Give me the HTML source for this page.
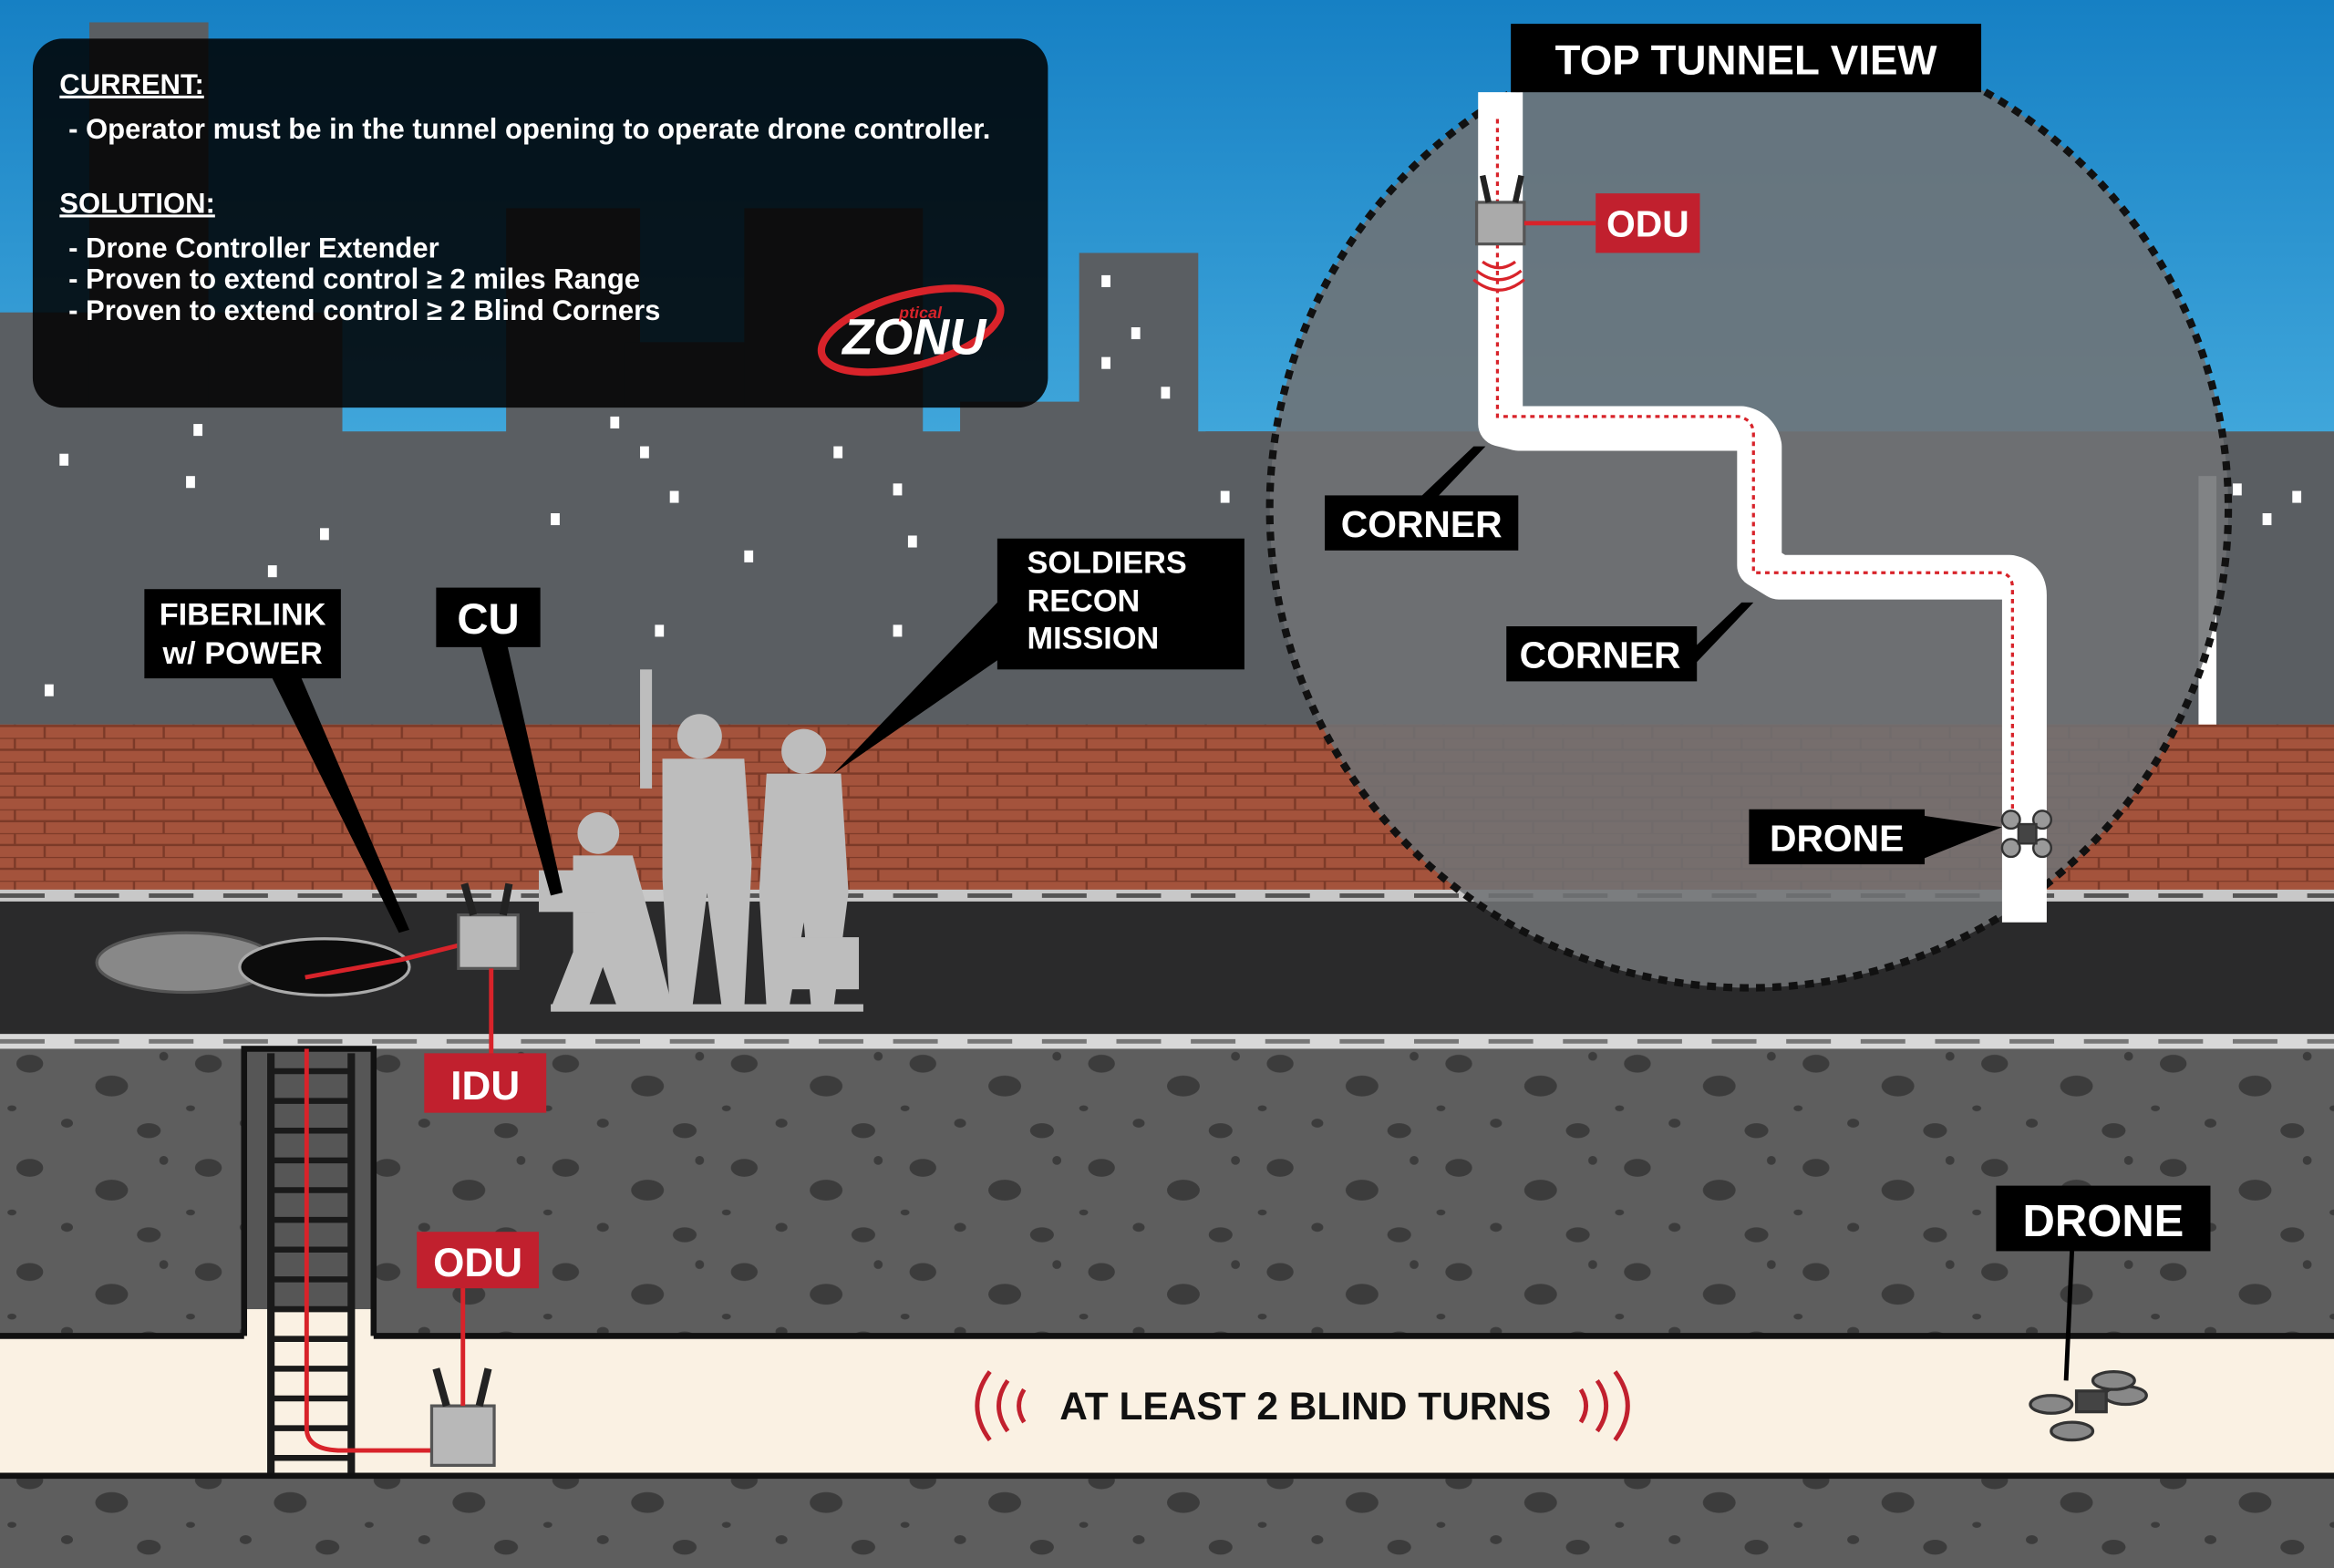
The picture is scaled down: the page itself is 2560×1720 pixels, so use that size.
<!DOCTYPE html>
<html><head><meta charset="utf-8"><style>
html,body{margin:0;padding:0;width:2560px;height:1720px;overflow:hidden;background:#5a5d60}
svg{display:block}
text{font-family:"Liberation Sans",Arial,sans-serif}
</style></head><body>
<svg width="2560" height="1720" viewBox="0 0 1568 1054" preserveAspectRatio="none" xmlns="http://www.w3.org/2000/svg">
<defs>
<linearGradient id="sky" x1="0" y1="0" x2="0" y2="1"><stop offset="0" stop-color="#1680c4"/><stop offset="1" stop-color="#5cc0ea"/></linearGradient>
<pattern id="brick" width="40" height="16" patternUnits="userSpaceOnUse">
<rect width="40" height="16" fill="#a4533c"/>
<path d="M0 0H40M0 8H40M10 0V8M30 8V16" stroke="#7c3a28" stroke-width="1.5"/>
</pattern>
<pattern id="rocks" width="120" height="70" patternUnits="userSpaceOnUse">
<rect width="120" height="70" fill="#5e5e5e"/>
<ellipse cx="20" cy="15" rx="9" ry="6" fill="#3c3c3c"/><ellipse cx="75" cy="30" rx="11" ry="7" fill="#3c3c3c"/>
<ellipse cx="45" cy="55" rx="4" ry="3" fill="#3c3c3c"/><ellipse cx="100" cy="60" rx="8" ry="5" fill="#3c3c3c"/>
<ellipse cx="110" cy="10" rx="3" ry="3" fill="#3c3c3c"/><ellipse cx="8" cy="45" rx="3" ry="2" fill="#3c3c3c"/>
</pattern>
</defs>
<rect width="1568" height="490" fill="url(#sky)"/>
<g fill="#5a5e62">
<rect x="0" y="210" width="230" height="280"/><rect x="60" y="15" width="80" height="300"/>
<rect x="230" y="290" width="1338" height="200"/><rect x="340" y="140" width="90" height="350"/>
<rect x="420" y="230" width="170" height="260"/><rect x="500" y="140" width="120" height="350"/>
<rect x="645" y="270" width="90" height="220"/><rect x="725" y="170" width="80" height="320"/>
<rect x="810" y="290" width="50" height="200"/><rect x="1490" y="320" width="78" height="170"/>
</g>
<g fill="#fff">
<rect x="40" y="305" width="6" height="8"/><rect x="130" y="285" width="6" height="8"/><rect x="125" y="320" width="6" height="8"/>
<rect x="180" y="380" width="6" height="8"/><rect x="215" y="355" width="6" height="8"/><rect x="30" y="460" width="6" height="8"/>
<rect x="410" y="280" width="6" height="8"/><rect x="430" y="300" width="6" height="8"/><rect x="450" y="330" width="6" height="8"/>
<rect x="500" y="370" width="6" height="8"/><rect x="560" y="300" width="6" height="8"/><rect x="600" y="325" width="6" height="8"/>
<rect x="610" y="360" width="6" height="8"/><rect x="740" y="185" width="6" height="8"/><rect x="760" y="220" width="6" height="8"/>
<rect x="780" y="260" width="6" height="8"/><rect x="740" y="240" width="6" height="8"/><rect x="820" y="330" width="6" height="8"/>
<rect x="370" y="345" width="6" height="8"/><rect x="440" y="420" width="6" height="8"/><rect x="600" y="420" width="6" height="8"/>
<rect x="1500" y="325" width="6" height="8"/><rect x="1520" y="345" width="6" height="8"/><rect x="1540" y="330" width="6" height="8"/>
<rect x="1477" y="320" width="12" height="170"/>
</g>
<rect x="0" y="487" width="1568" height="112" fill="url(#brick)"/>
<rect x="0" y="598" width="1568" height="8" fill="#c8c8c8"/>
<path d="M0 602H1568" stroke="#555" stroke-width="3" stroke-dasharray="30 20"/>
<rect x="0" y="606" width="1568" height="90" fill="#2a2a2b"/>
<rect x="0" y="695" width="1568" height="10" fill="#d8d8d8"/>
<path d="M0 700H1568" stroke="#777" stroke-width="3" stroke-dasharray="30 20"/>
<rect x="0" y="705" width="1568" height="349" fill="url(#rocks)"/>
<rect x="164" y="705" width="87" height="200" fill="#565656" stroke="#111" stroke-width="4"/>
<rect x="0" y="898" width="1568" height="94" fill="#faf1e3"/>
<path d="M0 898H164M251 898H1568M0 992H1568" stroke="#111" stroke-width="4"/>
<rect x="166" y="880" width="83" height="30" fill="#faf1e3"/>
<g stroke="#1a1a1a" stroke-width="5">
<path d="M182 708V990M236 708V990"/>
<path d="M182 720H236M182 740H236M182 760H236M182 780H236M182 800H236M182 820H236M182 840H236M182 860H236M182 880H236M182 900H236M182 920H236M182 940H236M182 960H236M182 980H236" stroke-width="4"/>
</g>
<path d="M206 705V960Q206 975 230 975H295" stroke="#d8232a" stroke-width="3" fill="none"/>
<rect x="290" y="945" width="42" height="40" fill="#b8b8b8" stroke="#555" stroke-width="2"/>
<path d="M300 945L293 920M322 945L328 920" stroke="#222" stroke-width="5"/>
<path d="M311 945V860" stroke="#d8232a" stroke-width="3"/>
<rect x="280" y="828" width="82" height="38" fill="#c1202e"/>
<text x="321" y="858" text-anchor="middle" font-size="27" font-weight="bold" fill="#fff">ODU</text>
<ellipse cx="125" cy="647" rx="60" ry="20" fill="#888" stroke="#555" stroke-width="2"/>
<ellipse cx="218" cy="650" rx="57" ry="19" fill="#0c0c0c" stroke="#aaa" stroke-width="2"/>
<path d="M205 657L270 645L310 635" stroke="#d8232a" stroke-width="3" fill="none"/>
<rect x="308" y="615" width="40" height="36" fill="#b8b8b8" stroke="#555" stroke-width="2"/>
<path d="M318 615L312 594M338 615L342 594" stroke="#222" stroke-width="5"/>
<path d="M330 651V712" stroke="#d8232a" stroke-width="3"/>
<rect x="285" y="708" width="82" height="40" fill="#c1202e"/>
<text x="326" y="739" text-anchor="middle" font-size="27" font-weight="bold" fill="#fff">IDU</text>
<g fill="#bdbdbd">
<circle cx="402" cy="560" r="14"/><path d="M385 575H425L440 630L452 678H415L405 650L395 678H370L385 640Z"/>
<rect x="362" y="585" width="38" height="28"/>
<circle cx="470" cy="495" r="15"/><path d="M445 510H500L505 580L500 678H485L475 600L465 678H450L445 590Z"/>
<rect x="430" y="450" width="8" height="80"/>
<circle cx="540" cy="505" r="15"/><path d="M515 520H565L570 600L560 678H545L540 620L530 678H515L510 600Z"/>
<rect x="532" y="630" width="45" height="35"/>
<rect x="370" y="675" width="210" height="5"/>
</g>
<g fill="#000">
<polygon points="180,450 200,450 275,625 268,627"/>
<polygon points="322,430 340,430 378,600 370,602"/>
<polygon points="670,405 690,430 560,520"/>
</g>
<rect x="97" y="396" width="132" height="60" fill="#000"/>
<text x="163" y="420" text-anchor="middle" font-size="21" font-weight="bold" fill="#fff">FIBERLINK</text>
<text x="163" y="446" text-anchor="middle" font-size="21" font-weight="bold" fill="#fff">w/ POWER</text>
<rect x="293" y="395" width="70" height="40" fill="#000"/>
<text x="328" y="426" text-anchor="middle" font-size="29" font-weight="bold" fill="#fff">CU</text>
<rect x="670" y="362" width="166" height="88" fill="#000"/>
<text x="690" y="385" font-size="21" font-weight="bold" fill="#fff">SOLDIERS</text>
<text x="690" y="411" font-size="21" font-weight="bold" fill="#fff">RECON</text>
<text x="690" y="436" font-size="21" font-weight="bold" fill="#fff">MISSION</text>
<text x="877" y="954" text-anchor="middle" font-size="26" font-weight="bold" fill="#111">AT LEAST 2 BLIND TURNS</text>
<g fill="none" stroke="#c1202e" stroke-width="3">
<path d="M665 922Q648 945 665 968M677 928Q665 945 677 962M688 934Q681 945 688 956"/>
<path d="M1085 922Q1102 945 1085 968M1073 928Q1085 945 1073 962M1062 934Q1069 945 1062 956"/>
</g>
<path d="M1392 840L1388 928" stroke="#000" stroke-width="3"/>
<rect x="1341" y="797" width="144" height="44" fill="#000"/>
<text x="1413" y="831" text-anchor="middle" font-size="30" font-weight="bold" fill="#fff">DRONE</text>
<g fill="#888" stroke="#333" stroke-width="2">
<ellipse cx="1378" cy="944" rx="14" ry="6"/><ellipse cx="1428" cy="938" rx="14" ry="6"/>
<ellipse cx="1392" cy="962" rx="14" ry="6"/><ellipse cx="1420" cy="928" rx="14" ry="6"/>
<rect x="1395" y="935" width="20" height="14" fill="#444"/>
</g>
<rect x="22" y="26" width="682" height="248" rx="20" fill="#000" opacity="0.86"/>
<g fill="#fff" font-size="19" font-weight="600">
<text x="40" y="63" font-weight="bold" text-decoration="underline">CURRENT:</text>
<text x="46" y="93">-  Operator must be in the tunnel opening to operate drone controller.</text>
<text x="40" y="143" font-weight="bold" text-decoration="underline">SOLUTION:</text>
<text x="46" y="173">-  Drone Controller Extender</text>
<text x="46" y="194">-  Proven to extend control ≥ 2 miles Range</text>
<text x="46" y="215">-  Proven to extend control ≥ 2 Blind Corners</text>
</g>
<ellipse cx="612" cy="222" rx="62" ry="24" fill="none" stroke="#d8232a" stroke-width="5" transform="rotate(-15 612 222)"/>
<text x="566" y="238" font-size="34" font-weight="bold" fill="#fff" font-style="italic">ZONU</text>
<text x="604" y="214" font-size="11" font-weight="bold" fill="#d8232a" font-style="italic">ptical</text>
<circle cx="1175" cy="342" r="322" fill="#707274" fill-opacity="0.88" stroke="#111" stroke-width="5" stroke-dasharray="6 5"/>
<path d="M1008 62V285L1020 288H1170Q1180 290 1182 300V380L1195 388H1350Q1360 390 1360 400V620" fill="none" stroke="#fff" stroke-width="30" stroke-linejoin="round"/>
<path d="M1006 80V280H1168Q1178 282 1178 292V385H1345Q1352 387 1352 395V550" fill="none" stroke="#d8232a" stroke-width="2" stroke-dasharray="3 3"/>
<rect x="992" y="136" width="32" height="28" fill="#aaa" stroke="#555" stroke-width="2"/>
<path d="M1000 136L996 118M1018 136L1022 118" stroke="#222" stroke-width="4"/>
<path d="M1024 150H1072" stroke="#d8232a" stroke-width="3"/>
<g fill="none" stroke="#d8232a" stroke-width="2"><path d="M996 176Q1007 184 1018 176M992 182Q1007 194 1022 182M990 188Q1007 202 1024 188"/></g>
<rect x="1072" y="130" width="70" height="40" fill="#c1202e"/>
<text x="1107" y="159" text-anchor="middle" font-size="25" font-weight="bold" fill="#fff">ODU</text>
<rect x="1015" y="16" width="316" height="46" fill="#000"/>
<text x="1173" y="50" text-anchor="middle" font-size="28" font-weight="bold" fill="#fff">TOP TUNNEL VIEW</text>
<polygon points="990,300 998,300 960,340 948,340" fill="#000"/>
<rect x="890" y="333" width="130" height="37" fill="#000"/>
<text x="955" y="361" text-anchor="middle" font-size="25" font-weight="bold" fill="#fff">CORNER</text>
<polygon points="1170,405 1178,405 1140,445 1128,445" fill="#000"/>
<rect x="1012" y="421" width="128" height="37" fill="#000"/>
<text x="1075" y="449" text-anchor="middle" font-size="25" font-weight="bold" fill="#fff">CORNER</text>
<polygon points="1290,548 1345,556 1290,578" fill="#000"/>
<rect x="1175" y="544" width="118" height="37" fill="#000"/>
<text x="1234" y="572" text-anchor="middle" font-size="25" font-weight="bold" fill="#fff">DRONE</text>
<g fill="#999" stroke="#333" stroke-width="1.5">
<circle cx="1351" cy="551" r="6"/><circle cx="1372" cy="551" r="6"/><circle cx="1351" cy="570" r="6"/><circle cx="1372" cy="570" r="6"/>
<rect x="1356" y="554" width="12" height="13" fill="#444"/>
</g>
</svg>
</body></html>
